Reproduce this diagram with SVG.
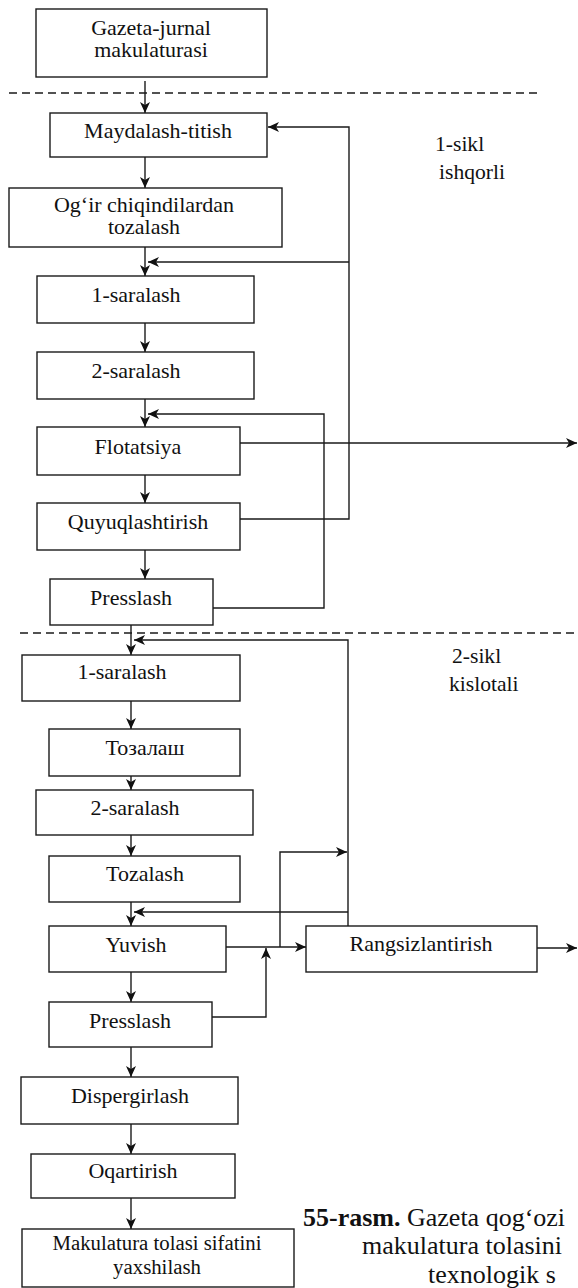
<svg xmlns="http://www.w3.org/2000/svg" width="578" height="1288" viewBox="0 0 578 1288">
<style>
.box{fill:#fff;stroke:#1a1a1a;stroke-width:1.4}
.t{font-family:'Liberation Serif','Times New Roman','DejaVu Serif',serif;font-size:20px;fill:#111;text-anchor:middle}
.lbl{font-family:'Liberation Serif','Times New Roman','DejaVu Serif',serif;font-size:20px;fill:#111}
.cap{font-family:'Liberation Serif','Times New Roman','DejaVu Serif',serif;font-size:26px;fill:#111}
.ar{fill:none;stroke:#1a1a1a;stroke-width:1.4;marker-end:url(#ah)}
.dash{fill:none;stroke:#1a1a1a;stroke-width:1.4;stroke-dasharray:8 5}
</style>
<defs>
<marker id="ah" markerUnits="userSpaceOnUse" markerWidth="12" markerHeight="12" viewBox="0 0 12 12" refX="11" refY="6" orient="auto">
<path d="M0,1 L11,6 L0,11 L3,6 z" fill="#111"/>
</marker>
</defs>
<rect width="578" height="1288" fill="#fff"/>

<g id="separators">
<line class="dash" x1="9" y1="93" x2="538" y2="93"/>
<line class="dash" x1="20" y1="633" x2="578" y2="633"/>
</g>

<g id="connectors">
<line class="ar" x1="145" y1="81" x2="145" y2="113"/>
<line class="ar" x1="145" y1="157" x2="145" y2="188"/>
<line class="ar" x1="145" y1="247" x2="145" y2="276"/>
<polyline class="ar" points="240,519 349,519 349,127 268,127"/>
<line class="ar" x1="349" y1="262" x2="148" y2="262"/>
<line class="ar" x1="145" y1="323" x2="145" y2="352"/>
<line class="ar" x1="145" y1="399" x2="145" y2="427"/>
<polyline class="ar" points="213,608 324,608 324,414 148,414"/>
<line class="ar" x1="240" y1="443" x2="577" y2="443"/>
<line class="ar" x1="145" y1="475" x2="145" y2="503"/>
<line class="ar" x1="145" y1="550" x2="145" y2="579"/>
<line class="ar" x1="131" y1="625" x2="131" y2="655"/>
<polyline class="ar" points="348,926 348,640 134,640"/>
<line class="ar" x1="348" y1="912" x2="134" y2="912"/>
<line class="ar" x1="131" y1="701" x2="131" y2="729"/>
<line class="ar" x1="131" y1="776" x2="131" y2="790"/>
<line class="ar" x1="131" y1="835" x2="131" y2="856"/>
<line class="ar" x1="131" y1="902" x2="131" y2="926"/>
<line class="ar" x1="226" y1="947" x2="306" y2="947"/>
<polyline class="ar" points="280,947 280,852 347,852"/>
<polyline class="ar" points="212,1017 266,1017 266,948"/>
<line class="ar" x1="537" y1="948" x2="577" y2="948"/>
<line class="ar" x1="131" y1="972" x2="131" y2="1002"/>
<line class="ar" x1="131" y1="1047" x2="131" y2="1077"/>
<line class="ar" x1="131" y1="1124" x2="131" y2="1154"/>
<line class="ar" x1="131" y1="1198" x2="131" y2="1229"/>
</g>

<g id="n1"><rect class="box" x="36" y="9" width="231" height="68"/>
<text class="t" transform="translate(151,35) scale(1.1,1)">Gazeta-jurnal</text><text class="t" transform="translate(151,57) scale(1.1,1)">makulaturasi</text></g>
<g id="n2"><rect class="box" x="50" y="113" width="217" height="44"/>
<text class="t" transform="translate(158,138) scale(1.1,1)">Maydalash-titish</text></g>
<g id="n3"><rect class="box" x="9" y="188" width="273" height="59"/>
<text class="t" transform="translate(144,212) scale(1.1,1)">Og‘ir chiqindilardan</text><text class="t" transform="translate(144,234) scale(1.1,1)">tozalash</text></g>
<g id="n4"><rect class="box" x="37" y="276" width="217" height="47"/>
<text class="t" transform="translate(136,302) scale(1.1,1)">1-saralash</text></g>
<g id="n5"><rect class="box" x="37" y="352" width="217" height="47"/>
<text class="t" transform="translate(136,378) scale(1.1,1)">2-saralash</text></g>
<g id="n6"><rect class="box" x="37" y="427" width="203" height="48"/>
<text class="t" transform="translate(138,454) scale(1.1,1)">Flotatsiya</text></g>
<g id="n7"><rect class="box" x="37" y="503" width="203" height="47"/>
<text class="t" transform="translate(138,529) scale(1.1,1)">Quyuqlashtirish</text></g>
<g id="n8"><rect class="box" x="50" y="579" width="163" height="46"/>
<text class="t" transform="translate(131,605) scale(1.1,1)">Presslash</text></g>

<g id="n9"><rect class="box" x="22" y="655" width="218" height="46"/>
<text class="t" transform="translate(122,679) scale(1.1,1)">1-saralash</text></g>
<g id="n10"><rect class="box" x="49" y="729" width="191" height="47"/>
<text class="t" transform="translate(145,755) scale(1.1,1)">Тозалаш</text></g>
<g id="n11"><rect class="box" x="36" y="790" width="217" height="45"/>
<text class="t" transform="translate(135,815) scale(1.1,1)">2-saralash</text></g>
<g id="n12"><rect class="box" x="49" y="856" width="191" height="46"/>
<text class="t" transform="translate(145,881) scale(1.1,1)">Tozalash</text></g>
<g id="n13"><rect class="box" x="49" y="926" width="177" height="46"/>
<text class="t" transform="translate(136,952) scale(1.1,1)">Yuvish</text></g>
<g id="n14"><rect class="box" x="306" y="926" width="231" height="46"/>
<text class="t" transform="translate(421,951) scale(1.1,1)">Rangsizlantirish</text></g>
<g id="n15"><rect class="box" x="49" y="1002" width="163" height="45"/>
<text class="t" transform="translate(130,1028) scale(1.1,1)">Presslash</text></g>
<g id="n16"><rect class="box" x="21" y="1077" width="217" height="47"/>
<text class="t" transform="translate(130,1103) scale(1.1,1)">Dispergirlash</text></g>
<g id="n17"><rect class="box" x="31" y="1154" width="204" height="44"/>
<text class="t" transform="translate(133,1178) scale(1.1,1)">Oqartirish</text></g>
<g id="n18"><rect class="box" x="22" y="1229" width="272" height="58"/>
<text class="t" transform="translate(157,1250) scale(1.04,1)">Makulatura tolasi sifatini</text><text class="t" transform="translate(157,1274) scale(1.04,1)">yaxshilash</text></g>

<g id="labels">
<text class="lbl" transform="translate(435,151) scale(1.08,1)">1-sikl</text>
<text class="lbl" transform="translate(439,179) scale(1.08,1)">ishqorli</text>
<text class="lbl" transform="translate(452,663) scale(1.08,1)">2-sikl</text>
<text class="lbl" transform="translate(449,691) scale(1.08,1)">kislotali</text>
</g>

<g id="caption">
<text class="cap" x="303" y="1226"><tspan font-weight="bold">55-rasm.</tspan> Gazeta qog‘ozi</text>
<text class="cap" x="362" y="1254">makulatura tolasini</text>
<text class="cap" x="428" y="1283">texnologik s</text>
</g>
</svg>
